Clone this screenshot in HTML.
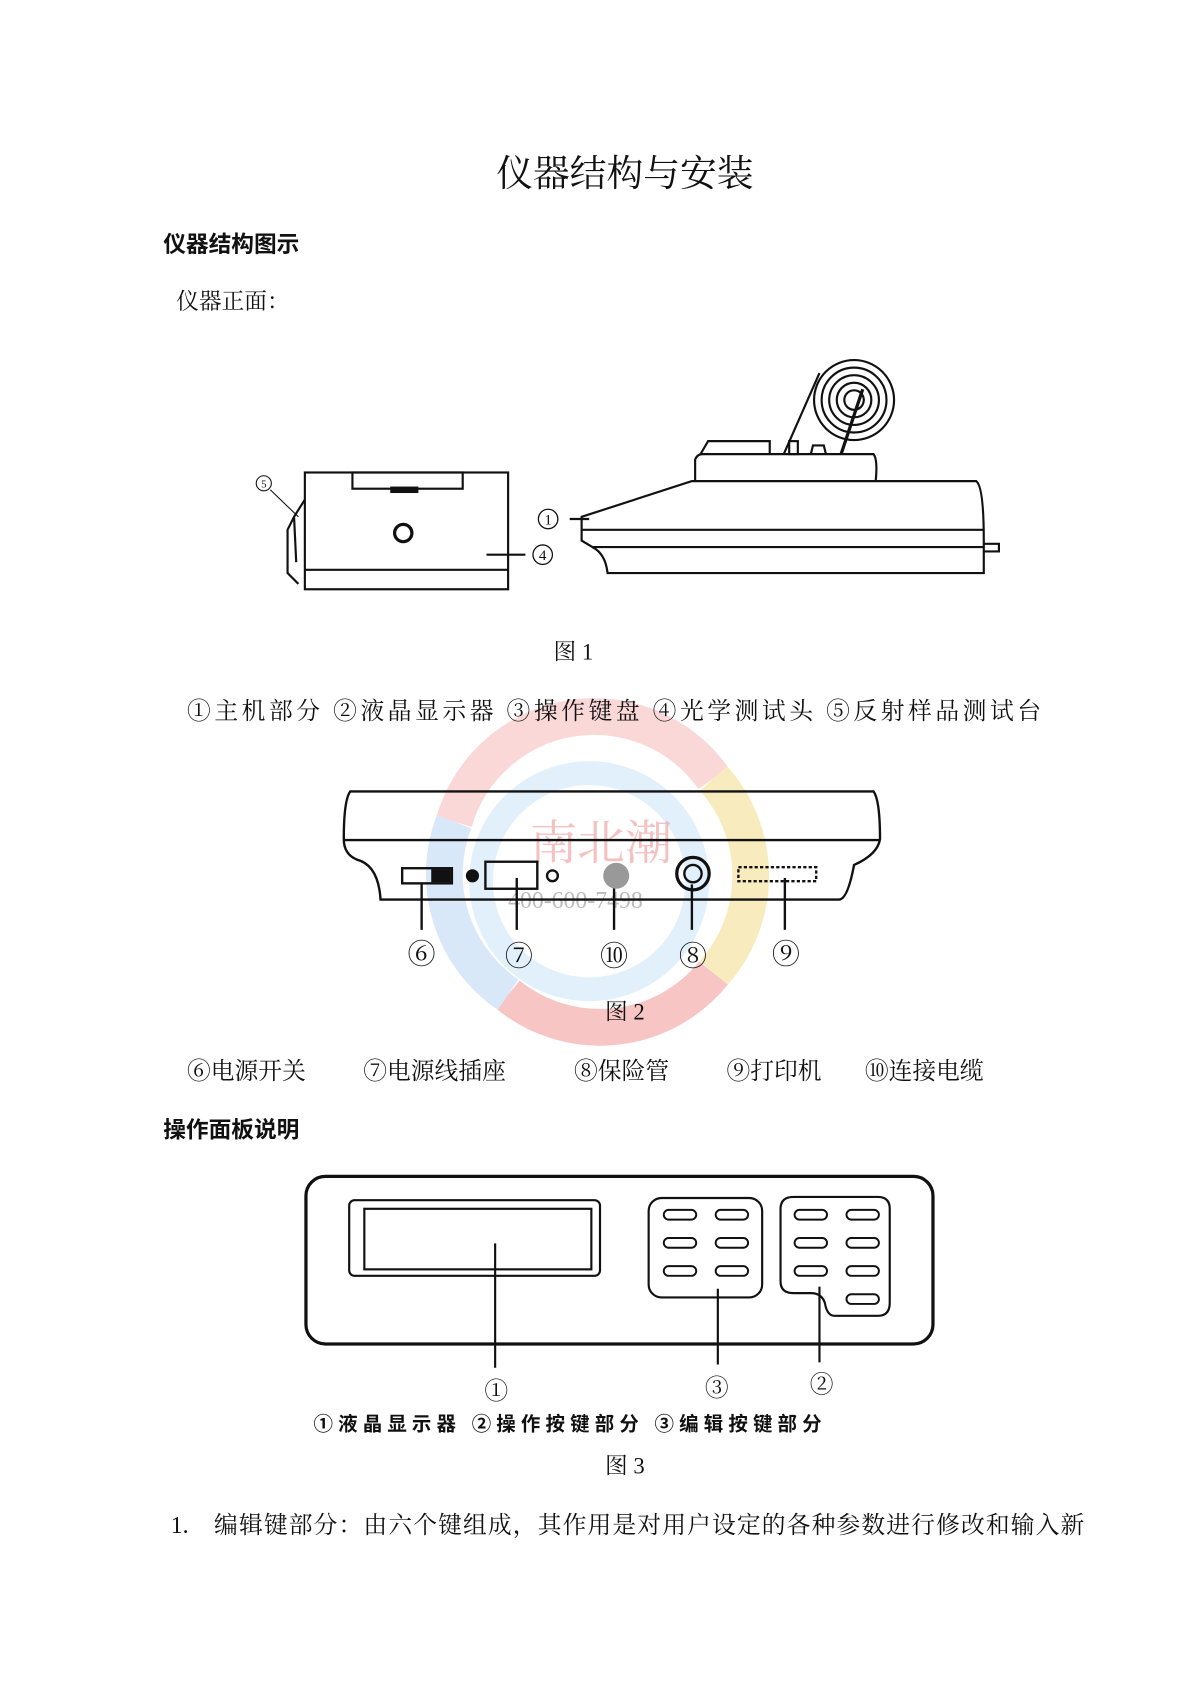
<!DOCTYPE html>
<html><head><meta charset="utf-8"><style>
html,body{margin:0;padding:0;background:#fff;}
svg{display:block;}
text{font-family:"Liberation Serif","Noto Serif CJK SC","Noto Sans CJK SC",serif;fill:#111;}
.b{font-family:"Liberation Sans","Noto Sans CJK SC",sans-serif;font-weight:bold;}
</style></head><body>
<svg width="1200" height="1704" viewBox="0 0 1110 1576" preserveAspectRatio="none" xmlns="http://www.w3.org/2000/svg">
<rect width="1110" height="1576" fill="#fff"/>
<g opacity="0.4" fill="none" stroke-width="34">
<path d="M420,760 A135,135 0 0 1 660,720" stroke="#f4a0a0"/>
<path d="M660,720 A135,135 0 0 1 660,900" stroke="#f0d060"/>
<path d="M660,900 A135,135 0 0 1 470,920" stroke="#f07070"/>
<path d="M470,920 A135,135 0 0 1 420,760" stroke="#a0c8f0"/>
<circle cx="545" cy="815" r="100" stroke="#b8dcf8" stroke-width="22"/>
</g>
<text x="490" y="795" font-size="44" style="fill:#e99" opacity="0.6">南北潮</text>
<text x="470" y="840" font-size="22" style="fill:#bbb">400-600-7498</text>

<text x="578" y="172" font-size="34" text-anchor="middle">仪器结构与安装</text>
<text x="151" y="233" font-size="21" class="b">仪器结构图示</text>
<text x="163" y="286" font-size="21">仪器正面：</text>

<g fill="none" stroke="#111" stroke-width="2">
<rect x="282" y="437" width="188" height="108"/>
<line x1="282" y1="527" x2="470" y2="527"/>
<rect x="326" y="437" width="102" height="15"/>
<rect x="362" y="451" width="24" height="4" fill="#111"/>
<circle cx="373" cy="493" r="8" stroke-width="3"/>
<path d="M282,462 L272,478 L266,490 L266,530 L276,540"/>
<path d="M272,478 L274,520"/>
<circle cx="244" cy="447" r="7" stroke-width="1"/>
<line x1="250" y1="453" x2="276" y2="478" stroke-width="1"/>
<line x1="450" y1="513" x2="486" y2="513"/>
<circle cx="502" cy="513" r="9" stroke-width="1.2"/>
<path d="M538,478 L640,445 L903,445 Q910,450 910,500 L910,530 L562,530 Q560,512 548,506 L538,500 Z"/>
<line x1="538" y1="490" x2="910" y2="490"/>
<line x1="548" y1="506" x2="910" y2="506"/>
<path d="M643,445 L643,425 Q645,420 650,420 L808,420 Q812,425 810,445"/>
<path d="M648,420 L655,408 L712,408 L712,420"/>
<circle cx="790" cy="370" r="37"/><circle cx="790" cy="370" r="30"/><circle cx="790" cy="370" r="23"/><circle cx="790" cy="370" r="16"/><circle cx="790" cy="370" r="9"/>
<line x1="725" y1="420" x2="758" y2="345"/>
<line x1="778" y1="420" x2="798" y2="360" stroke-width="3"/>
<rect x="730" y="408" width="8" height="12"/>
<path d="M750,420 L752,412 L762,412 L764,420"/>
<path d="M910,503 L924,503 L924,510 L910,510"/>
<line x1="527" y1="480" x2="545" y2="480"/>
<circle cx="507" cy="480" r="9" stroke-width="1.2"/>
</g>
<text x="502" y="518" font-size="14" text-anchor="middle">4</text>
<text x="507" y="485" font-size="14" text-anchor="middle">1</text>
<text x="244" y="451" font-size="10" text-anchor="middle">5</text>

<text x="512" y="610" font-size="21">图 1</text>
<text x="173" y="665" font-size="22" textLength="790" lengthAdjust="spacing">①主机部分  ②液晶显示器  ③操作键盘  ④光学测试头  ⑤反射样品测试台</text>

<g fill="none" stroke="#111" stroke-width="2.2">
<path d="M324,732 L808,732 Q814,740 814,776 Q812,790 790,800 Q784,832 776,832 L352,832 Q350,800 330,795 Q318,790 318,776 Q318,740 324,732 Z"/>
<line x1="318" y1="777" x2="814" y2="777"/>
<rect x="372" y="803" width="46" height="14"/>
<rect x="400" y="805" width="16" height="10" fill="#111"/>
<circle cx="437" cy="810" r="5" fill="#111"/>
<rect x="449" y="797" width="48" height="25"/>
<circle cx="511" cy="810" r="5"/>
<circle cx="641" cy="808" r="15" stroke-width="3"/>
<circle cx="641" cy="808" r="8"/>
<rect x="683" y="802" width="72" height="13" stroke-dasharray="3 2"/>
<line x1="390" y1="817" x2="390" y2="860"/>
<line x1="478" y1="812" x2="478" y2="860"/>
<line x1="568" y1="820" x2="568" y2="860"/>
<line x1="640" y1="818" x2="640" y2="860"/>
<line x1="726" y1="812" x2="726" y2="860"/>
</g>
<circle cx="570" cy="810" r="12" fill="#999"/>
<text x="390" y="891" font-size="26" text-anchor="middle">⑥</text>
<text x="480" y="893" font-size="26" text-anchor="middle">⑦</text>
<text x="568" y="893" font-size="26" text-anchor="middle">⑩</text>
<text x="641" y="893" font-size="26" text-anchor="middle">⑧</text>
<text x="727" y="891" font-size="26" text-anchor="middle">⑨</text>
<text x="578" y="943" font-size="21" text-anchor="middle">图 2</text>
<text x="173" y="998" font-size="22">⑥电源开关</text>
<text x="336" y="998" font-size="22">⑦电源线插座</text>
<text x="531" y="998" font-size="22">⑧保险管</text>
<text x="672" y="998" font-size="22">⑨打印机</text>
<text x="800" y="998" font-size="22">⑩连接电缆</text>

<text x="151" y="1052" font-size="21" class="b">操作面板说明</text>

<g fill="none" stroke="#111" stroke-width="2">
<rect x="283" y="1088" width="580" height="155" rx="18" stroke-width="3"/>
<rect x="323" y="1110" width="232" height="70" rx="5"/>
<rect x="337" y="1118" width="210" height="56"/>
<rect x="600" y="1108" width="105" height="92" rx="12"/>
<path d="M734,1107 L812,1107 Q823,1107 823,1118 L823,1205 Q823,1217 812,1217 L772,1217 Q765,1217 763,1205 Q760,1196 750,1196 L734,1196 Q722,1196 722,1185 L722,1118 Q722,1107 734,1107 Z"/>
<g stroke-width="1.8">
<rect x="614" y="1119" width="30" height="9" rx="4.5"/><rect x="662" y="1119" width="30" height="9" rx="4.5"/>
<rect x="614" y="1145" width="30" height="9" rx="4.5"/><rect x="662" y="1145" width="30" height="9" rx="4.5"/>
<rect x="614" y="1171" width="30" height="9" rx="4.5"/><rect x="662" y="1171" width="30" height="9" rx="4.5"/>
<rect x="735" y="1119" width="30" height="9" rx="4.5"/><rect x="783" y="1119" width="30" height="9" rx="4.5"/>
<rect x="735" y="1145" width="30" height="9" rx="4.5"/><rect x="783" y="1145" width="30" height="9" rx="4.5"/>
<rect x="735" y="1171" width="30" height="9" rx="4.5"/><rect x="783" y="1171" width="30" height="9" rx="4.5"/>
<rect x="783" y="1197" width="30" height="9" rx="4.5"/>
</g>
<line x1="458" y1="1150" x2="458" y2="1265"/>
<line x1="664" y1="1192" x2="664" y2="1262"/>
<line x1="758" y1="1190" x2="758" y2="1260"/>
</g>
<text x="459" y="1294" font-size="22" text-anchor="middle">①</text>
<text x="663" y="1291" font-size="22" text-anchor="middle">③</text>
<text x="760" y="1288" font-size="22" text-anchor="middle">②</text>
<text x="290" y="1323" font-size="18" class="b" textLength="470" lengthAdjust="spacing">①液晶显示器  ②操作按键部分  ③编辑按键部分</text>
<text x="578" y="1363" font-size="21" text-anchor="middle">图 3</text>
<text x="158" y="1418" font-size="22">1.</text>
<text x="198" y="1418" font-size="22" textLength="805">编辑键部分：由六个键组成，其作用是对用户设定的各种参数进行修改和输入新</text>
</svg>
</body></html>
